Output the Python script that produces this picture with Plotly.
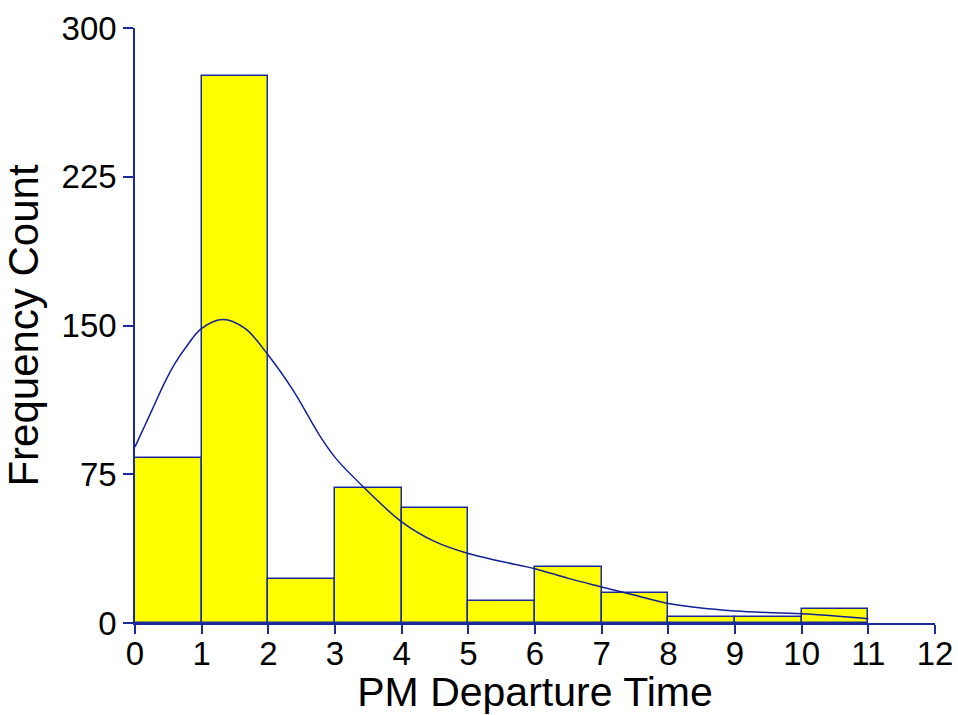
import plotly.graph_objects as go

bin_left = [0, 1, 2, 3, 4, 5, 6, 7, 8, 9, 10]
counts = [83, 276, 22, 68, 58, 11, 28, 15, 3, 3, 7]

curve_x = [0, 0.15, 0.3, 0.45, 0.6, 0.75, 1.0, 1.32, 1.65, 2.0, 2.37, 2.77, 3.0, 3.45, 4.0, 4.5, 5.0, 5.5, 6.0, 6.5, 7.0, 7.5, 8.0, 9.0, 10.0, 11.0]
curve_y = [88.8, 99.7, 110.7, 121.6, 130.9, 138.4, 148.5, 153.0, 148.5, 135.0, 117.4, 94.5, 83.5, 67.8, 51.0, 41.0, 35.0, 31.0, 27.4, 22.5, 18.2, 14.0, 9.8, 6.0, 4.7, 2.2]

x_ticks = list(range(0, 13))
y_ticks = [0, 75, 150, 225, 300]

blue = "#1a2a9c"
font = "Liberation Sans, Arial, sans-serif"

fig = go.Figure()
fig.add_trace(go.Bar(
    x=[b + 0.5 for b in bin_left], y=counts, width=[1] * len(counts),
    marker=dict(color="#ffff00", line=dict(color=blue, width=1.5)),
    showlegend=False,
))
fig.add_trace(go.Scatter(
    x=curve_x, y=curve_y, mode="lines",
    line=dict(color="#10209a", width=1.5, shape="spline", smoothing=1.0),
    showlegend=False,
))

fig.update_layout(
    width=958, height=715,
    margin=dict(l=135, r=23, t=28, b=92),
    plot_bgcolor="white", paper_bgcolor="white",
    bargap=0,
    font=dict(family=font, color="black"),
    xaxis=dict(
        range=[0, 12], tickvals=x_ticks, ticktext=[str(v) for v in x_ticks],
        showgrid=False, zeroline=False, automargin=False,
        showline=True, linecolor=blue, linewidth=1.5,
        ticks="outside", ticklen=9, tickcolor=blue, tickwidth=1.5,
        ticklabelstandoff=-8,
        tickfont=dict(size=33, family=font, color="black"),
        title=dict(text="PM Departure Time", font=dict(size=41, family=font, color="black"), standoff=4),
    ),
    yaxis=dict(
        range=[0, 300], tickvals=y_ticks, ticktext=[str(v) for v in y_ticks],
        showgrid=False, zeroline=False, automargin=False,
        showline=True, linecolor=blue, linewidth=1.5,
        ticks="outside", ticklen=10, tickcolor=blue, tickwidth=1.5,
        tickfont=dict(size=33, family=font, color="black"),
        title=dict(text="Frequency Count", font=dict(size=42, family=font, color="black"), standoff=12),
    ),
)

fig.write_html("out.html")
